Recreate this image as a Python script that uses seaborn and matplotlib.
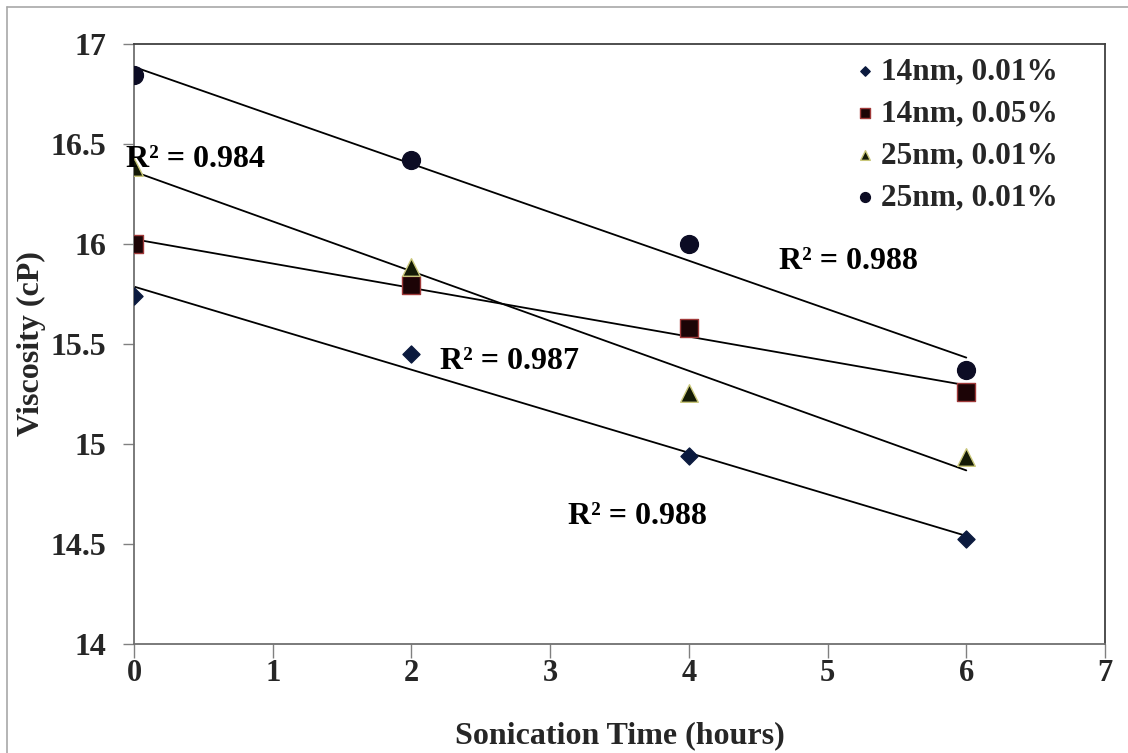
import matplotlib
matplotlib.use("Agg")
import matplotlib.pyplot as plt
from matplotlib.lines import Line2D
import seaborn as sns
import pandas as pd

# Sonication time (hours) and measured viscosity (cP) per sample
hours = [0, 2, 4, 6]
visc_14nm_001 = [15.74, 15.45, 14.94, 14.525]
visc_14nm_005 = [16.00, 15.795, 15.58, 15.26]
visc_25nm_001 = [16.385, 15.885, 15.255, 14.935]
visc_25nm_001_b = [16.845, 16.42, 16.00, 15.37]
series_labels = ["14nm, 0.01%", "14nm, 0.05%", "25nm, 0.01%", "25nm, 0.01%"]

# R² annotations for the linear trendlines
r2_texts = ["R² = 0.988", "R² = 0.987", "R² = 0.984", "R² = 0.988"]
r2_x = [3.63, 2.71, 0.44, 5.15]
r2_y = [14.635, 15.41, 16.42, 15.91]

x_ticks = [0, 1, 2, 3, 4, 5, 6, 7]
y_ticks = [14, 14.5, 15, 15.5, 16, 16.5, 17]
y_tick_labels = ["14", "14.5", "15", "15.5", "16", "16.5", "17"]

sns.set_style("white")
plt.rcParams["font.family"] = ["Liberation Serif", "DejaVu Serif"]
plt.rcParams["font.weight"] = "bold"

W, H = 1128, 753
fig = plt.figure(figsize=(W / 100, H / 100), dpi=100)
ax = fig.add_axes([134 / W, (H - 644) / H, (1105 - 134) / W, (644 - 44) / H])

styles = [
    dict(marker="D", s=75, color="#0b1a3e", edgecolor="#0b1a3e"),
    dict(marker="s", s=165, color="#1c0406", edgecolor="#a03a3a"),
    dict(marker="^", s=160, color="#141a06", edgecolor="#c9c77a"),
    dict(marker="o", s=165, color="#0c0c24", edgecolor="#0c0c24"),
]
all_series = [visc_14nm_001, visc_14nm_005, visc_25nm_001, visc_25nm_001_b]

for vals, lab, st in zip(all_series, series_labels, styles):
    df = pd.DataFrame({"hours": hours, "visc": vals})
    sns.regplot(data=df, x="hours", y="visc", ax=ax, scatter=False, ci=None,
                truncate=True, line_kws=dict(color="black", lw=1.3, zorder=2))
    sns.scatterplot(data=df, x="hours", y="visc", ax=ax, label=lab, zorder=3,
                    linewidth=1, **st)

for t, xx, yy in zip(r2_texts, r2_x, r2_y):
    ax.text(xx, yy, t, ha="center", va="center", fontsize=23,
            fontweight="bold", color="black", zorder=4)

ax.set_xlim(0, 7)
ax.set_ylim(14, 17)
ax.set_xticks(x_ticks)
ax.set_xticklabels([str(v) for v in x_ticks])
ax.set_yticks(y_ticks)
ax.set_yticklabels(y_tick_labels)

for side in ["left", "bottom", "top", "right"]:
    ax.spines[side].set_visible(True)
    ax.spines[side].set_color("#707070")
    ax.spines[side].set_linewidth(1.3)
ax.spines["top"].set_color("#404040")
ax.spines["right"].set_color("#404040")

ax.tick_params(axis="x", direction="out", length=10, width=1, color="#808080",
               pad=1, labelsize=22, bottom=True)
ax.tick_params(axis="y", direction="out", length=8, width=1, color="#808080",
               pad=12, labelsize=23, left=True)
for lbl in ax.get_xticklabels() + ax.get_yticklabels():
    lbl.set_fontweight("bold")

ax.set_xlabel("Sonication Time (hours)", fontsize=23, fontweight="bold")
ax.set_ylabel("Viscosity (cP)", fontsize=23, fontweight="bold")
ax.xaxis.label.set_va("center")
ax.xaxis.set_label_coords(0.5, -0.153)
ax.yaxis.label.set_va("center")
ax.yaxis.set_label_coords(-0.106, 0.5)

leg = ax.legend(loc="upper left", bbox_to_anchor=(0.742, 0.978), frameon=False,
                fontsize=22.5, markerscale=0.55, handletextpad=0.15,
                handlelength=0.7, labelspacing=0.42, borderpad=0,
                borderaxespad=0)
for txt in leg.get_texts():
    txt.set_fontweight("bold")

# thin outer frame along the top and left of the figure
fig.add_artist(Line2D([7 / W, 7 / W], [0, 1 - 7 / H], transform=fig.transFigure,
                      color="#a8a8a8", lw=1.2))
fig.add_artist(Line2D([7 / W, 1], [1 - 7 / H, 1 - 7 / H], transform=fig.transFigure,
                      color="#a8a8a8", lw=1.2))

fig.savefig("out.png", dpi=100)
